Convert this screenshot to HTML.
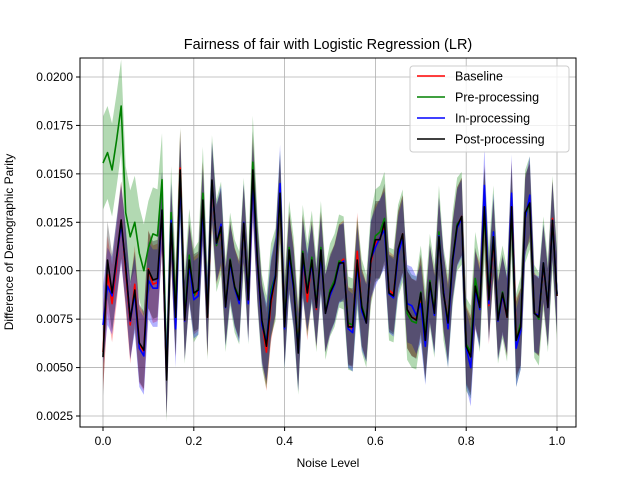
<!DOCTYPE html>
<html><head><meta charset="utf-8"><style>
body{margin:0;background:#fff;}
svg{display:block;font-family:"Liberation Sans","DejaVu Sans",sans-serif;}
</style></head><body>
<svg id="chart" width="640" height="480" viewBox="0 0 640 480" xmlns="http://www.w3.org/2000/svg">
<rect width="640" height="480" fill="#fff"/>
<g id="grid"></g>
<g id="bands"></g>
<g id="lines"></g>
<rect x="80" y="58" width="496" height="369" fill="none" stroke="#000" stroke-width="1"/>
<g id="ticks"></g>
<text x="328" y="49" text-anchor="middle" font-size="14.5">Fairness of fair with Logistic Regression (LR)</text>
<text x="328" y="467" text-anchor="middle" font-size="12">Noise Level</text>
<text transform="translate(13,242) rotate(-90)" text-anchor="middle" font-size="12">Difference of Demographic Parity</text>
<g id="legend">
<rect x="410" y="66" width="159" height="86" rx="3" fill="#fff" fill-opacity="0.8" stroke="#ccc"/>
</g>
</svg>
<script>
const xTicks=[0,0.2,0.4,0.6,0.8,1.0];
const yTicks=[0.0025,0.0050,0.0075,0.0100,0.0125,0.0150,0.0175,0.0200];
const seriesNames=["Baseline","Pre-processing","In-processing","Post-processing"];
const seriesColors=["#ff0000","#008000","#0000ff","#000000"];
const post=[0.00554,0.01055,0.00885,0.0107,0.01262,0.0102,0.00745,0.0090,0.00627,0.0059,0.01004,0.00952,0.0096,0.01313,0.00436,0.01246,0.0076,0.0152,0.00745,0.01055,0.00885,0.009,0.01365,0.0076,0.01468,0.01143,0.01226,0.00813,0.01055,0.00916,0.00849,0.01246,0.0085,0.0152,0.01055,0.00745,0.0061,0.0085,0.0097,0.0140,0.0071,0.01107,0.00916,0.00575,0.0109,0.00885,0.01055,0.0081,0.01107,0.0078,0.00885,0.00935,0.0104,0.0104,0.0071,0.0071,0.01055,0.0081,0.0073,0.01055,0.0116,0.0116,0.0125,0.00885,0.0087,0.0111,0.0119,0.0080,0.0076,0.00745,0.00885,0.0064,0.0094,0.0078,0.01175,0.00885,0.0073,0.01055,0.0123,0.0128,0.0061,0.00555,0.0092,0.0081,0.0133,0.0085,0.01175,0.00745,0.00885,0.0076,0.0133,0.0064,0.0071,0.0130,0.0135,0.0078,0.0076,0.0104,0.0081,0.0126,0.0087];
const pre=[0.01556,0.0161,0.0152,0.01675,0.0185,0.0130,0.01175,0.0125,0.0109,0.0100,0.0112,0.0119,0.0118,0.0147,0.0046,0.0130,0.0080,0.0150,0.0076,0.0108,0.0087,0.0091,0.0140,0.0078,0.0146,0.0113,0.0122,0.0082,0.0106,0.0092,0.0086,0.0124,0.0086,0.0156,0.0106,0.0074,0.0063,0.0090,0.0098,0.0138,0.0073,0.0112,0.0093,0.0060,0.0110,0.0090,0.0107,0.0082,0.0112,0.0078,0.0090,0.0095,0.0105,0.0104,0.0073,0.0072,0.0104,0.0082,0.0074,0.0106,0.0118,0.0120,0.0127,0.0088,0.0087,0.0110,0.0118,0.0078,0.0074,0.0073,0.0089,0.0066,0.0095,0.0079,0.0120,0.0088,0.0074,0.0106,0.0124,0.0127,0.0062,0.0058,0.0096,0.0082,0.0130,0.0088,0.0120,0.0076,0.0089,0.0077,0.0132,0.0064,0.0073,0.0128,0.0135,0.0079,0.0075,0.0104,0.0082,0.0125,0.0088];
const base=[0.0058,0.0098,0.0083,0.0103,0.0126,0.0100,0.0072,0.0093,0.0062,0.0058,0.0101,0.0093,0.0094,0.0130,0.0045,0.0124,0.0075,0.0153,0.0074,0.0104,0.0087,0.0089,0.0136,0.0076,0.0144,0.0113,0.0121,0.0082,0.0105,0.0092,0.0085,0.0124,0.0084,0.0148,0.0104,0.0073,0.0058,0.0083,0.0097,0.0138,0.0072,0.0110,0.0092,0.0060,0.0108,0.0084,0.0106,0.0080,0.0110,0.0078,0.0087,0.0094,0.0104,0.0106,0.0072,0.0070,0.0110,0.0081,0.0074,0.0104,0.0114,0.0117,0.0123,0.0090,0.0088,0.0110,0.0119,0.0080,0.0076,0.0075,0.0087,0.0064,0.0093,0.0079,0.0118,0.0089,0.0074,0.0105,0.0123,0.0128,0.0062,0.0057,0.0090,0.0084,0.0135,0.0082,0.0117,0.0075,0.0087,0.0076,0.0137,0.0066,0.0071,0.0128,0.0137,0.0079,0.0076,0.0103,0.0081,0.0127,0.0087];
const inproc=[0.0072,0.0092,0.0087,0.0106,0.0124,0.0103,0.0074,0.0088,0.0060,0.0056,0.0095,0.0091,0.0091,0.0131,0.0045,0.0126,0.0070,0.0148,0.0074,0.0103,0.0085,0.0087,0.0133,0.0078,0.0146,0.0114,0.0124,0.0081,0.0104,0.0091,0.0083,0.0125,0.0083,0.0146,0.0104,0.0072,0.0063,0.0087,0.0098,0.0145,0.0070,0.0108,0.0090,0.0058,0.0106,0.0089,0.0104,0.0081,0.0108,0.0078,0.0087,0.0093,0.0103,0.0105,0.0070,0.0068,0.0103,0.0079,0.0073,0.0106,0.0112,0.0117,0.0121,0.0088,0.0086,0.0108,0.0117,0.0083,0.0082,0.0077,0.0083,0.0061,0.0093,0.0077,0.0118,0.0090,0.0070,0.0104,0.0122,0.0127,0.0060,0.0050,0.0090,0.0080,0.0144,0.0083,0.0120,0.0074,0.0087,0.0077,0.0140,0.0060,0.0069,0.0127,0.0139,0.0078,0.0077,0.0104,0.0081,0.0126,0.0088];
const bandHalf=[0.0020,0.0024,0.0020,0.0020];
const seriesData=[base,pre,inproc,post];

const NS="http://www.w3.org/2000/svg";
const X0=103,X1=557,YT=77,YB=416;
function xs(v){return X0+(X1-X0)*v;}
function ys(v){return YB-(v-0.0025)/(0.0175)*(YB-YT);}
function mk(tag,attrs,parent){const e=document.createElementNS(NS,tag);for(const k in attrs)e.setAttribute(k,attrs[k]);parent.appendChild(e);return e;}
const grid=document.getElementById('grid'),ticks=document.getElementById('ticks');
xTicks.forEach(t=>{
  const g=mk('line',{x1:xs(t),x2:xs(t),y1:58,y2:427,stroke:'#b0b0b0','stroke-width':0.8},grid);
  
  
  mk('line',{x1:xs(t),x2:xs(t),y1:427,y2:431,stroke:'#000'},ticks);
  const tx=mk('text',{x:xs(t),y:445,'text-anchor':'middle','font-size':12},ticks);
  tx.textContent=t.toFixed(1);
  
  
});
yTicks.forEach(t=>{
  const g=mk('line',{x1:80,x2:576,y1:ys(t),y2:ys(t),stroke:'#b0b0b0','stroke-width':0.8},grid);
  
  
  mk('line',{x1:76,x2:80,y1:ys(t),y2:ys(t),stroke:'#000'},ticks);
  const tx=mk('text',{x:73,y:ys(t)+4,'text-anchor':'end','font-size':12},ticks);
  tx.textContent=t.toFixed(4);
  
  
});
const bands=document.getElementById('bands'),lines=document.getElementById('lines');
seriesData.forEach((d,s)=>{
  const n=d.length;const xv=i=>xs(i/(n-1));
  let up=d.map((v,i)=>xv(i)+','+ys(v+bandHalf[s]));
  let dn=d.map((v,i)=>xv(i)+','+ys(v-bandHalf[s])).reverse();
  const b=mk('polygon',{points:up.concat(dn).join(' '),fill:seriesColors[s],'fill-opacity':0.3},bands);
  
  
});
seriesData.forEach((d,s)=>{
  const n=d.length;
  const l=mk('polyline',{points:d.map((v,i)=>xs(i/(n-1))+','+ys(v)).join(' '),fill:'none',stroke:seriesColors[s],'stroke-width':1.6,'stroke-linejoin':'round'},lines);
  
  
});
const lg=document.getElementById('legend');
seriesNames.forEach((nm,i)=>{
  const y=76+i*21;
  mk('line',{x1:417,x2:445,y1:y,y2:y,stroke:seriesColors[i],'stroke-width':1.6},lg);
  const t=mk('text',{x:455,y:y+4.5,'font-size':12.5},lg);
  t.textContent=nm;
  
  
});
</script>
</body></html>
